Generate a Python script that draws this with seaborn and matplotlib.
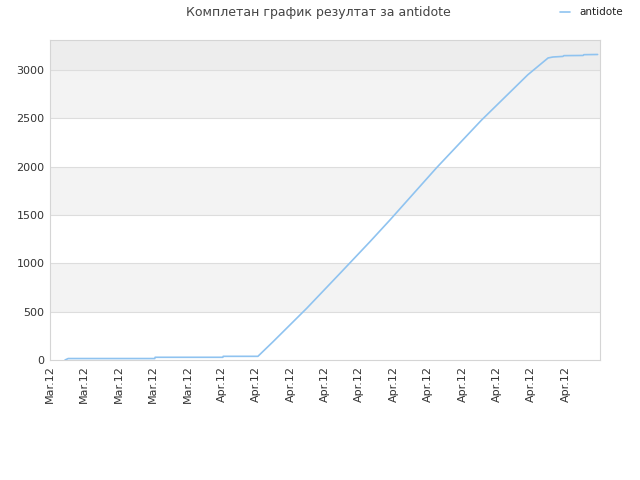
import numpy as np
import pandas as pd
import matplotlib
matplotlib.use("Agg")
import matplotlib.pyplot as plt
import seaborn as sns

# data (x in tick units, y = result count)
x_pos = [0.44, 0.53, 3.05, 3.06, 5.03, 5.04, 6.05, 6.49, 7.47, 8.44, 9.31,
         9.89, 11.25, 12.55, 13.9, 14.49, 14.63, 14.92, 14.95, 15.51, 15.53, 15.93]
scores = [0, 15, 15, 28, 28, 38, 38, 189, 535, 897, 1224,
          1448, 1990, 2480, 2950, 3124, 3134, 3140, 3148, 3150, 3158, 3160]
tick_labels = ["Mar.12"] * 5 + ["Apr.12"] * 11
y_ticks = [0, 500, 1000, 1500, 2000, 2500, 3000]
series_name = "antidote"

df = pd.DataFrame({"x": x_pos, "score": scores, "name": series_name})

sns.set_style("white")
plt.rcParams["font.family"] = ["DejaVu Sans"]

fig = plt.figure(figsize=(6.4, 4.8), dpi=100)
ax = fig.add_axes([0.078, 0.25, 0.8595, 0.6667])

# alternating background bands
ax.axhspan(500, 1000, color="#f3f3f3", zorder=0, lw=0)
ax.axhspan(1500, 2000, color="#f3f3f3", zorder=0, lw=0)
ax.axhspan(2500, 3000, color="#f3f3f3", zorder=0, lw=0)
ax.axhspan(3000, 3310, color="#ededed", zorder=0, lw=0)
for yv in y_ticks[1:]:
    ax.axhline(yv, color="#dddddd", lw=0.8, zorder=1)

sns.lineplot(data=df, x="x", y="score", hue="name", palette=["#8fc3f0"],
             lw=1.2, ax=ax, zorder=3)

ax.set_xlim(0, 16)
ax.set_ylim(0, 3310)
ax.set_xticks(range(len(tick_labels)))
ax.set_xticklabels(tick_labels, rotation=90, fontsize=8, color="#333333")
ax.set_yticks(y_ticks)
ax.set_yticklabels([str(v) for v in y_ticks], fontsize=8, color="#333333")
ax.tick_params(length=0, pad=4)
ax.set_xlabel("")
ax.set_ylabel("")
for sp in ax.spines.values():
    sp.set_color("#d5d5d5")
    sp.set_linewidth(0.8)

fig.text(0.498, 0.974, "Комплетан график резултат за antidote", ha="center",
         va="center", fontsize=9, color="#444444")

handles, labels = ax.get_legend_handles_labels()
ax.get_legend().remove()
leg = fig.legend(handles, labels, loc="center right", bbox_to_anchor=(0.98, 0.974),
                 frameon=False, fontsize=7.5, handlelength=1.0, handletextpad=0.9,
                 borderaxespad=0)
for t in leg.get_texts():
    t.set_color("#222222")

fig.savefig("out.png", dpi=100)
